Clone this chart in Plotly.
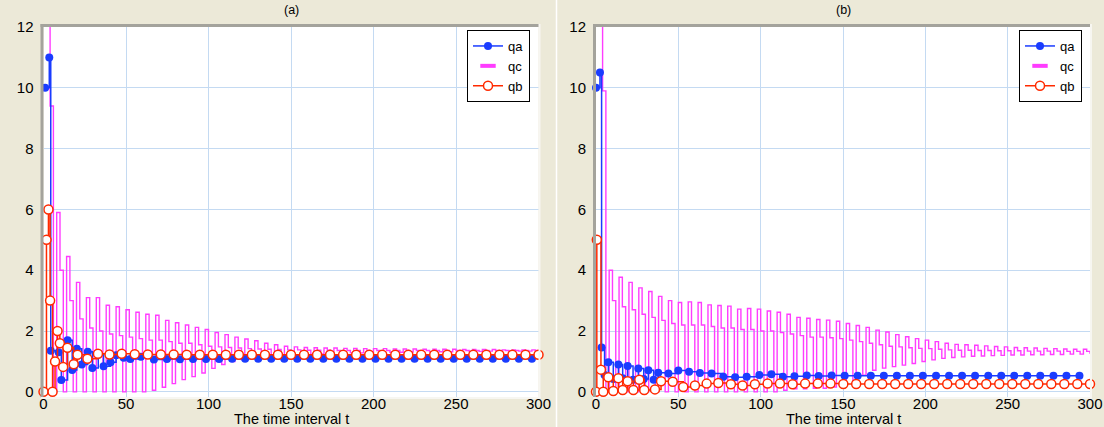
import plotly.graph_objects as go

# ---------------- data ----------------
# qc sampled every 2 time units (t = 0, 2, 4, ..., 300)
qc_a = [13, 13, 9.4, 0,
        5.9, 4.0, 0, 4.45, 3.0, 0, 3.6, 2.4, 0, 3.1, 2.1, 0, 3.1, 2.0, 0,
        2.85, 1.9, 0, 2.8, 1.85, 0, 2.7, 1.8, 0, 2.62, 1.75, 0, 2.55, 1.7, 0.05,
        2.52, 1.7, 0.15, 2.35, 1.65, 0.27, 2.27, 1.6, 0.4, 2.2, 1.6, 0.5, 2.12, 1.55, 0.62,
        2.05, 1.5, 0.77, 1.95, 1.48, 0.9, 1.88, 1.46, 1.0, 1.8, 1.44, 1.06, 1.74, 1.42, 1.1,
        1.68, 1.41, 1.13, 1.6, 1.4, 1.16, 1.55, 1.39, 1.18, 1.5, 1.38, 1.2, 1.48, 1.38, 1.22,
        1.46, 1.37, 1.24, 1.45, 1.37, 1.25, 1.44, 1.37, 1.26, 1.44, 1.36, 1.27, 1.43, 1.36, 1.28,
        1.43, 1.36, 1.28, 1.42, 1.36, 1.29, 1.42, 1.36, 1.29, 1.42, 1.36, 1.3, 1.41, 1.36, 1.3,
        1.41, 1.36, 1.31, 1.41, 1.36, 1.31, 1.4, 1.36, 1.32, 1.4, 1.36, 1.32, 1.4, 1.36, 1.32,
        1.4, 1.36, 1.33, 1.39, 1.36, 1.33, 1.39, 1.36, 1.33, 1.39, 1.36, 1.34, 1.39, 1.36, 1.34,
        1.38, 1.36, 1.34, 1.38, 1.36, 1.34, 1.38, 1.36, 1.34, 1.38, 1.36, 1.35]

qc_b = [13, 13, 9.9, 0,
        4.0, 3.0, 0, 3.77, 2.8, 0, 3.6, 2.7, 0, 3.42, 2.55, 0, 3.3, 2.45, 0,
        3.14, 2.35, 0, 3.0, 2.25, 0, 2.94, 2.2, 0, 2.96, 2.2, 0, 2.94, 2.2, 0,
        2.86, 2.15, 0, 2.84, 2.1, 0, 2.82, 2.1, 0, 2.72, 2.05, 0, 2.74, 2.05, 0,
        2.72, 2.0, 0, 2.66, 2.0, 0, 2.62, 1.95, 0.05, 2.55, 1.9, 0.1, 2.45, 1.85, 0.1,
        2.42, 1.8, 0.12, 2.38, 1.8, 0.12, 2.36, 1.78, 0.16, 2.32, 1.75, 0.25, 2.25, 1.7, 0.38,
        2.18, 1.65, 0.55, 2.12, 1.6, 0.71, 2.03, 1.55, 0.78, 1.97, 1.5, 0.83, 1.88, 1.48, 0.88,
        1.81, 1.45, 0.93, 1.75, 1.43, 1.0, 1.7, 1.42, 1.05, 1.65, 1.4, 1.1, 1.6, 1.38, 1.13,
        1.56, 1.37, 1.15, 1.55, 1.37, 1.17, 1.53, 1.36, 1.18, 1.51, 1.36, 1.19, 1.49, 1.35, 1.2,
        1.48, 1.35, 1.21, 1.46, 1.35, 1.21, 1.45, 1.34, 1.22, 1.44, 1.34, 1.22, 1.43, 1.34, 1.23,
        1.42, 1.34, 1.23, 1.41, 1.33, 1.24, 1.4, 1.33, 1.24, 1.4, 1.33, 1.25]

qa_a_t = [1.0, 3.5, 4.4, 9.2, 10.8, 14.6, 17.4, 20.2, 23.2, 26.8,
          29.6, 33.2, 36.4, 40.6, 44.0, 48.6, 52.6, 59.0, 66.9, 74.8,
          82.7, 90.6, 98.5, 106.4, 114.3, 122.2, 130.1, 138.0, 145.9, 153.8,
          161.7, 169.6, 177.5, 185.4, 193.3, 201.2, 209.1, 217.0, 224.9, 232.8,
          240.7, 248.6, 256.5, 264.4, 272.3, 280.2, 288.1, 296.0]
qa_a = [10.0, 11.0, 1.35, 1.3, 0.39, 1.7, 0.72, 1.42, 0.9, 1.32,
        0.78, 1.22, 0.84, 0.97, 1.2, 1.12, 1.08, 1.15, 1.06, 1.08,
        1.07, 1.08, 1.08, 1.08, 1.09, 1.09, 1.09, 1.09, 1.09, 1.09,
        1.09, 1.09, 1.09, 1.09, 1.09, 1.09, 1.09, 1.09, 1.09, 1.09,
        1.09, 1.09, 1.09, 1.09, 1.09, 1.09, 1.09, 1.09]

qb_a_t = [0.0, 1.8, 3.0, 4.0, 5.5, 7.0, 8.5, 9.9, 11.9, 14.5,
          18.3, 20.6, 26.6, 33.0, 40.0, 47.4, 55.3, 63.2, 71.1, 78.9,
          86.8, 94.7, 102.6, 110.5, 118.4, 126.3, 134.2, 142.1, 150.0, 157.9,
          165.8, 173.7, 181.6, 189.5, 197.4, 205.3, 213.2, 221.1, 228.9, 236.8,
          244.7, 252.6, 260.5, 268.4, 276.3, 284.2, 292.1, 300.0]
qb_a = [0, 5.0, 6.0, 3.0, 0, 1.0, 2.0, 1.6, 0.82, 1.45,
        0.91, 1.22, 1.09, 1.25, 1.23, 1.25, 1.24, 1.23, 1.23, 1.23,
        1.22, 1.22, 1.22, 1.22, 1.22, 1.22, 1.22, 1.22, 1.22, 1.22,
        1.22, 1.22, 1.22, 1.22, 1.22, 1.22, 1.22, 1.22, 1.22, 1.22,
        1.22, 1.22, 1.22, 1.22, 1.22, 1.22, 1.22, 1.22]

qa_b_t = [0.0, 2.4, 3.4, 5.2, 7.5, 10.5, 13.6, 16.2, 19.2, 22.5,
          25.7, 29.0, 31.8, 35.0, 37.8, 44.0, 50.0, 56.5, 63.1, 70.2,
          77.3, 84.5, 91.5, 99.2, 106.5, 113.5, 120.5, 128.0, 135.2, 143.1,
          151.0, 158.9, 166.9, 174.8, 182.7, 190.6, 198.5, 206.5, 214.4, 222.3,
          230.2, 238.2, 246.1, 254.0, 261.9, 269.8, 277.8, 285.7, 293.6]
qa_b = [10.0, 10.5, 1.46, 0.55, 0.97, 0.42, 0.9, 0.45, 0.85, 0.4,
        0.77, 0.42, 0.71, 0.4, 0.63, 0.6, 0.7, 0.66, 0.62, 0.6,
        0.5, 0.48, 0.5, 0.55, 0.58, 0.5, 0.51, 0.54, 0.52, 0.54,
        0.53, 0.53, 0.53, 0.53, 0.53, 0.53, 0.53, 0.53, 0.53, 0.53,
        0.53, 0.53, 0.53, 0.53, 0.53, 0.53, 0.53, 0.53, 0.53]

qb_b_t = [0.0, 0.5, 3.0, 4.4, 7.5, 10.5, 13.6, 16.2, 19.2, 22.7,
          26.3, 29.3, 35.8, 39.5, 46.6, 53.0, 60.1, 67.2, 74.3, 81.9,
          89.0, 96.5, 104.2, 111.7, 119.4, 127.0, 134.7, 142.4, 150.2, 158.0,
          165.9, 173.8, 181.7, 189.6, 197.5, 205.4, 213.3, 221.2, 229.1, 237.0,
          244.9, 252.8, 260.7, 268.6, 276.5, 284.4, 292.3, 300.0]
qb_b = [0, 5.0, 0.73, 0, 0.48, 0.03, 0.45, 0.06, 0.35, 0.06,
        0.4, 0.06, 0.08, 0.35, 0.33, 0.16, 0.21, 0.27, 0.29, 0.25,
        0.21, 0.25, 0.27, 0.27, 0.25, 0.27, 0.27, 0.27, 0.26, 0.26,
        0.26, 0.26, 0.26, 0.26, 0.26, 0.26, 0.26, 0.26, 0.26, 0.26,
        0.26, 0.26, 0.26, 0.26, 0.26, 0.26, 0.26, 0.26]

x_ticks = [0, 50, 100, 150, 200, 250, 300]
y_ticks = [0, 2, 4, 6, 8, 10, 12]
panel_titles = ["(a)", "(b)"]
x_title = "The time interval t"

assert len(qc_a) == 151 and len(qc_b) == 151
assert len(qa_a_t) == len(qa_a) and len(qb_a_t) == len(qb_a)
assert len(qa_b_t) == len(qa_b) and len(qb_b_t) == len(qb_b)

# ---------------- style ----------------
W, H = 1104, 427
FONT = "Liberation Sans, Arial, sans-serif"
BLUE = "#1a3cff"
MAG = "#ff3cff"
RED = "#ff2a00"
BG = "#ece9d8"
GRID = "#c4daf2"
BORDER = "#a4a39c"

# plot-area pixel boxes (left, right) and vertical extent
panels = [(43.5, 538.5), (596.0, 1090.0)]
top_px, bot_px = 27.0, 397.0

fig = go.Figure()


def add_panel(i, qc, qa_t, qa, qb_t, qb):
    xa = "x" if i == 0 else "x2"
    ya = "y" if i == 0 else "y2"
    lg = "legend" if i == 0 else "legend2"
    tc = [2 * k for k in range(len(qc))]
    fig.add_trace(go.Scatter(x=tc, y=qc, mode="lines", xaxis=xa, yaxis=ya,
                             line=dict(color=MAG, width=1.4, shape="hv"),
                             showlegend=False, hoverinfo="skip"))
    fig.add_trace(go.Scatter(x=qa_t, y=qa, name="qa", mode="lines+markers",
                             xaxis=xa, yaxis=ya, legend=lg, cliponaxis=False,
                             line=dict(color=BLUE, width=1.5, shape="hv"),
                             marker=dict(color=BLUE, size=8, symbol="circle")))
    fig.add_trace(go.Scatter(x=[None], y=[None], name="qc", mode="markers",
                             xaxis=xa, yaxis=ya, legend=lg,
                             marker=dict(symbol="line-ew", size=11, color=MAG,
                                         line=dict(color=MAG, width=4))))
    fig.add_trace(go.Scatter(x=qb_t, y=qb, name="qb", mode="lines+markers",
                             xaxis=xa, yaxis=ya, legend=lg, cliponaxis=False,
                             line=dict(color=RED, width=1.5, shape="hv"),
                             marker=dict(color="white", size=9, symbol="circle",
                                         line=dict(color=RED, width=1.5))))


add_panel(0, qc_a, qa_a_t, qa_a, qb_a_t, qb_a)
add_panel(1, qc_b, qa_b_t, qa_b, qb_b_t, qb_b)

ydom = [(H - bot_px) / H, (H - top_px) / H]
yrange = [-0.17, 12]

axis_common = dict(showgrid=True, gridcolor=GRID, gridwidth=1, zeroline=False,
                   showline=False, fixedrange=True, automargin=False,
                   tickfont=dict(family=FONT, size=15, color="black"))

xaxis_extra = dict(range=[0, 300], tickvals=x_ticks, ticks="", ticklabelstandoff=-4)
yaxis_extra = dict(range=yrange, tickvals=y_ticks, ticks="outside", ticklen=6,
                   tickcolor="rgba(0,0,0,0)")

layout = dict(
    width=W, height=H,
    margin=dict(l=0, r=0, t=0, b=0),
    paper_bgcolor=BG, plot_bgcolor="white",
    showlegend=True,
    xaxis=dict(domain=[panels[0][0] / W, panels[0][1] / W], anchor="y",
               **xaxis_extra, **axis_common),
    yaxis=dict(domain=ydom, anchor="x", **yaxis_extra, **axis_common),
    xaxis2=dict(domain=[panels[1][0] / W, panels[1][1] / W], anchor="y2",
                **xaxis_extra, **axis_common),
    yaxis2=dict(domain=ydom, anchor="x2", **yaxis_extra, **axis_common),
)

legend_common = dict(xanchor="right", yanchor="top", bgcolor="white",
                     bordercolor="black", borderwidth=1, itemwidth=30,
                     tracegroupgap=0, traceorder="normal",
                     font=dict(family=FONT, size=13, color="black"))
layout["legend"] = dict(x=530 / W, y=1 - 30 / H, **legend_common)
layout["legend2"] = dict(x=1082 / W, y=1 - 30 / H, **legend_common)

fig.update_layout(**layout)

annotations = []
shapes = []
for i, (l, r) in enumerate(panels):
    cx = (l + r) / 2 / W
    annotations.append(dict(text=panel_titles[i], x=cx, y=1 - 10 / H, xref="paper", yref="paper",
                            showarrow=False, xanchor="center", yanchor="middle",
                            font=dict(family=FONT, size=12.5, color="black")))
    annotations.append(dict(text=x_title, x=cx, y=1 - 419 / H, xref="paper", yref="paper",
                            showarrow=False, xanchor="center", yanchor="middle",
                            font=dict(family=FONT, size=14.5, color="black")))
    # sunken frame: dark left/top, light right/bottom
    shapes.append(dict(type="line", xref="paper", yref="paper",
                       x0=(l - 1.5) / W, x1=(l - 1.5) / W,
                       y0=1 - (bot_px + 1) / H, y1=1 - (top_px - 3) / H,
                       line=dict(color=BORDER, width=3)))
    shapes.append(dict(type="line", xref="paper", yref="paper",
                       x0=(l - 3) / W, x1=(r + 1) / W,
                       y0=1 - (top_px - 1.5) / H, y1=1 - (top_px - 1.5) / H,
                       line=dict(color=BORDER, width=3)))
    shapes.append(dict(type="line", xref="paper", yref="paper",
                       x0=(r + 1) / W, x1=(r + 1) / W,
                       y0=1 - (bot_px + 1) / H, y1=1 - (top_px - 3) / H,
                       line=dict(color="#f7f6f1", width=2)))
    shapes.append(dict(type="line", xref="paper", yref="paper",
                       x0=(l - 3) / W, x1=(r + 2) / W,
                       y0=1 - (bot_px + 1) / H, y1=1 - (bot_px + 1) / H,
                       line=dict(color="#f7f6f1", width=2)))

# separator between the two panels
shapes.append(dict(type="line", xref="paper", yref="paper",
                   x0=556.5 / W, x1=556.5 / W, y0=0, y1=1,
                   line=dict(color="white", width=1.5)))

fig.update_layout(annotations=annotations, shapes=shapes)

fig.write_html("out.html", config={"displayModeBar": False},
               post_script="document.body.style.margin='0';document.body.style.overflow='hidden';")
